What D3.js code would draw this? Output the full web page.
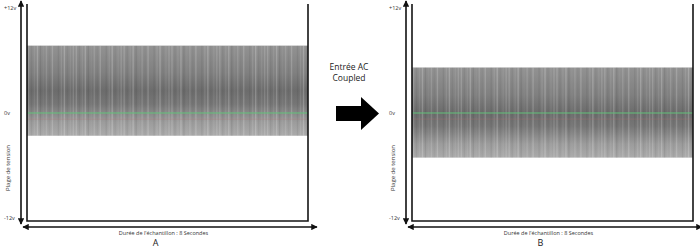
<!DOCTYPE html>
<html>
<head>
<meta charset="utf-8">
<script src="https://cdn.jsdelivr.net/npm/d3@7"></script>
<style>
  body { margin: 0; background: #fff; }
  svg { display: block; font-family: "Open Sans", "Liberation Sans", sans-serif; }
</style>
</head>
<body>
<svg id="chart" width="700" height="250"></svg>
<script>
// values
const panels = ["A", "B"];
const signalMax = [7.7, 5.2];   // volts, top of the trace band
const signalMin = [-2.6, -5.1]; // volts, bottom of the trace band
const voltTicks = [12, 0, -12];
const voltLabels = ["+12v", "0v", "-12v"];
const timeLabel = "Durée de l'échantillon : 8 Secondes";
const yLabel = "Plage de tension";
const middleText = ["Entrée AC", "Coupled"];
// shade pattern of the vertical striations (white/black overlay opacity)
const stripeShade = [0.16, -0.05, 0.08, 0.2, -0.08, 0.04, 0.13, -0.03, 0.18, 0.0, -0.06, 0.1, 0.21, -0.04, 0.07, 0.14];

const svg = d3.select("#chart");
const y = d3.scaleLinear().domain([-12, 12]).range([218, 8]);

const defs = svg.append("defs");
const grad = defs.append("linearGradient")
  .attr("id", "band").attr("x1", 0).attr("x2", 0).attr("y1", 0).attr("y2", 1);
[[0, "#929292"], [0.3, "#808080"], [0.5, "#6c6c6c"], [0.65, "#767676"], [0.85, "#9c9c9c"], [1, "#aaaaaa"]]
  .forEach(([o, c]) => grad.append("stop").attr("offset", o).attr("stop-color", c));

defs.append("marker")
  .attr("id", "head").attr("viewBox", "0 0 10 10")
  .attr("refX", 9).attr("refY", 5)
  .attr("markerWidth", 4).attr("markerHeight", 4)
  .attr("orient", "auto-start-reverse")
  .append("path").attr("d", "M0,0L10,5L0,10Z").attr("fill", "#111");

const frames = [
  { left: 27, right: 308, axisX: 21, labelX: 4 },
  { left: 412, right: 693, axisX: 406, labelX: 389 },
];

panels.forEach((name, i) => {
  const f = frames[i];
  const g = svg.append("g");
  const x = d3.scaleLinear().domain([0, 8]).range([f.left, f.right]);

  // trace band
  const top = y(signalMax[i]), bot = y(signalMin[i]);
  g.append("rect")
    .attr("x", x(0)).attr("y", top)
    .attr("width", x(8) - x(0)).attr("height", bot - top)
    .attr("fill", "url(#band)");

  const nStripes = Math.round((x(8) - x(0)) / 3);
  const xs = d3.scaleLinear().domain([0, nStripes]).range([x(0), x(8)]);
  g.append("g").selectAll("line")
    .data(d3.range(nStripes))
    .join("line")
    .attr("x1", d => xs(d) + 1.5).attr("x2", d => xs(d) + 1.5)
    .attr("y1", top).attr("y2", bot)
    .attr("stroke", d => stripeShade[d % stripeShade.length] > 0 ? "#fff" : "#000")
    .attr("stroke-opacity", d => Math.abs(stripeShade[d % stripeShade.length]))
    .attr("stroke-width", 1.4);

  // zero line and faint second trace
  g.append("line")
    .attr("x1", x(0)).attr("x2", x(8)).attr("y1", y(-0.7)).attr("y2", y(-0.7))
    .attr("stroke", "#c07070").attr("stroke-opacity", 0.3).attr("stroke-width", 0.8);
  g.append("line")
    .attr("x1", x(0)).attr("x2", x(8)).attr("y1", y(0)).attr("y2", y(0))
    .attr("stroke", "#62c27a").attr("stroke-width", 1.1);

  // frame (open top)
  g.append("path")
    .attr("d", `M${f.left},4V221H${f.right}V4`)
    .attr("fill", "none").attr("stroke", "#151515").attr("stroke-width", 1.6);

  // double headed arrows
  g.append("line")
    .attr("x1", f.axisX).attr("x2", f.axisX).attr("y1", 224).attr("y2", 1)
    .attr("stroke", "#111").attr("stroke-width", 1.6)
    .attr("marker-start", "url(#head)").attr("marker-end", "url(#head)");
  g.append("line")
    .attr("x1", f.axisX + 2).attr("x2", f.right + 9).attr("y1", 227).attr("y2", 227)
    .attr("stroke", "#111").attr("stroke-width", 1.6)
    .attr("marker-start", "url(#head)").attr("marker-end", "url(#head)");

  // volt labels
  g.selectAll("text.v")
    .data(voltTicks)
    .join("text")
    .attr("class", "v")
    .attr("x", f.labelX).attr("y", d => y(d) + 2)
    .attr("font-size", 5.5).attr("fill", "#333")
    .text((d, j) => voltLabels[j]);

  g.append("text")
    .attr("transform", `translate(${f.labelX + 6},168) rotate(-90)`)
    .attr("text-anchor", "middle")
    .attr("font-size", 6).attr("fill", "#333")
    .text(yLabel);

  const cx = (f.left + f.right) / 2;
  g.append("text")
    .attr("x", cx - 4).attr("y", 235)
    .attr("text-anchor", "middle")
    .attr("font-size", 5.5).attr("fill", "#333")
    .text(timeLabel);
  g.append("text")
    .attr("x", cx - 12).attr("y", 246)
    .attr("text-anchor", "middle")
    .attr("font-size", 9).attr("fill", "#222")
    .text(name);
});

// middle caption and arrow
svg.selectAll("text.mid")
  .data(middleText)
  .join("text")
  .attr("class", "mid")
  .attr("x", 349).attr("y", (d, i) => 70 + i * 11)
  .attr("text-anchor", "middle")
  .attr("font-size", 8.5).attr("fill", "#222")
  .text(d => d);

svg.append("path")
  .attr("d", "M336,106H361V97L379,113.5L361,130V121H336Z")
  .attr("fill", "#000");
</script>
</body>
</html>
